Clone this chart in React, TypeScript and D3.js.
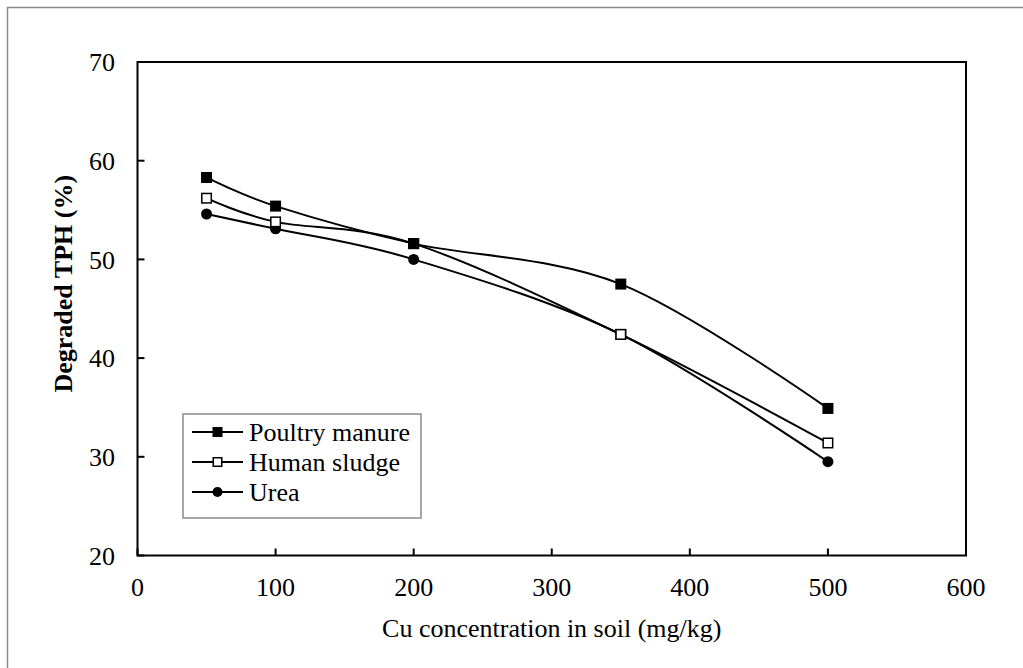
import React from "react";
import * as d3 from "d3";

const cuLevels = [50, 100, 200, 350, 500];
const poultryManure = [58.3, 55.4, 51.6, 47.5, 34.9];
const humanSludge = [56.2, 53.8, 51.6, 42.4, 31.4];
const urea = [54.6, 53.1, 50.0, 42.4, 29.5];
const xTicks = [0, 100, 200, 300, 400, 500, 600];
const yTicks = [20, 30, 40, 50, 60, 70];
const seriesNames = ["Poultry manure", "Human sludge", "Urea"];
const seriesMarkers = ["filledSquare", "openSquare", "circle"];
// marker shown at Urea's 350 mg/kg point in the reference
const ureaPointMarkers = ["circle", "circle", "circle", "filledSquare", "circle"];

const W = 1023;
const H = 668;
const M = { left: 137.5, right: 966, top: 62, bottom: 555.5 };
const FONT = "'Liberation Serif', 'Times New Roman', serif";

function Marker({ type, x, y, s }: { type: string; x: number; y: number; s: number }) {
  if (type === "circle") return <circle cx={x} cy={y} r={s / 2} fill="#000" />;
  if (type === "openSquare")
    return (
      <rect x={x - s / 2 + 0.75} y={y - s / 2 + 0.75} width={s - 1.5} height={s - 1.5} fill="#fff" stroke="#000" strokeWidth={1.5} />
    );
  return <rect x={x - s / 2} y={y - s / 2} width={s} height={s} fill="#000" />;
}

export default function App() {
  const x = d3.scaleLinear().domain([0, 600]).range([M.left, M.right]);
  const y = d3.scaleLinear().domain([20, 70]).range([M.bottom, M.top]);
  const line = d3
    .line<[number, number]>()
    .x((d) => x(d[0]))
    .y((d) => y(d[1]))
    .curve(d3.curveCardinal.tension(0));

  const data = [poultryManure, humanSludge, urea];
  const drawOrder = [2, 1, 0];

  const legendX = 183;
  const legendY = 414;
  const rowH = 30;

  return (
    <svg width={W} height={H} style={{ position: "absolute", left: 0, top: 0, background: "#fff" }} fontFamily={FONT}>
      <rect x={7.5} y={7.5} width={W + 20} height={H + 20} fill="#fff" stroke="#8a8a8a" strokeWidth={1.5} />
      {/* plot frame */}
      <rect x={M.left} y={M.top} width={M.right - M.left} height={M.bottom - M.top} fill="none" stroke="#000" strokeWidth={2} />
      {/* y ticks */}
      {yTicks.map((t) => (
        <g key={"y" + t}>
          <line x1={M.left} x2={M.left + 7} y1={y(t)} y2={y(t)} stroke="#000" strokeWidth={2} />
          <text x={115} y={y(t)} dy="0.35em" textAnchor="end" fontSize={26}>
            {t}
          </text>
        </g>
      ))}
      {/* x ticks */}
      {xTicks.map((t) => (
        <g key={"x" + t}>
          <line x1={x(t)} x2={x(t)} y1={M.bottom} y2={M.bottom - 7} stroke="#000" strokeWidth={2} />
          <text x={x(t)} y={596} textAnchor="middle" fontSize={26}>
            {t}
          </text>
        </g>
      ))}
      <text x={(M.left + M.right) / 2} y={637} textAnchor="middle" fontSize={26}>
        Cu concentration in soil (mg/kg)
      </text>
      <text transform={`translate(72,${(M.top + M.bottom) / 2 - 25}) rotate(-90)`} textAnchor="middle" fontSize={26} fontWeight="bold">
        Degraded TPH (%)
      </text>
      {/* series */}
      {drawOrder.map((si) => {
        const pts: [number, number][] = cuLevels.map((c, i) => [c, data[si][i]]);
        return (
          <g key={"s" + si}>
            <path d={line(pts) || ""} fill="none" stroke="#000" strokeWidth={2} />
            {pts.map((p, i) => (
              <Marker
                key={i}
                type={si === 2 ? ureaPointMarkers[i] : seriesMarkers[si]}
                x={x(p[0])}
                y={y(p[1])}
                s={11}
              />
            ))}
          </g>
        );
      })}
      {/* legend */}
      <rect x={legendX} y={legendY} width={238} height={104} fill="#fff" stroke="#8a8a8a" strokeWidth={1.5} />
      {seriesNames.map((n, i) => {
        const cy = legendY + 18 + i * rowH;
        return (
          <g key={n}>
            <line x1={192} x2={243} y1={cy} y2={cy} stroke="#000" strokeWidth={2} />
            <Marker type={seriesMarkers[i]} x={217.5} y={cy} s={10} />
            <text x={249} y={cy} dy="0.35em" fontSize={26}>
              {n}
            </text>
          </g>
        );
      })}
    </svg>
  );
}
